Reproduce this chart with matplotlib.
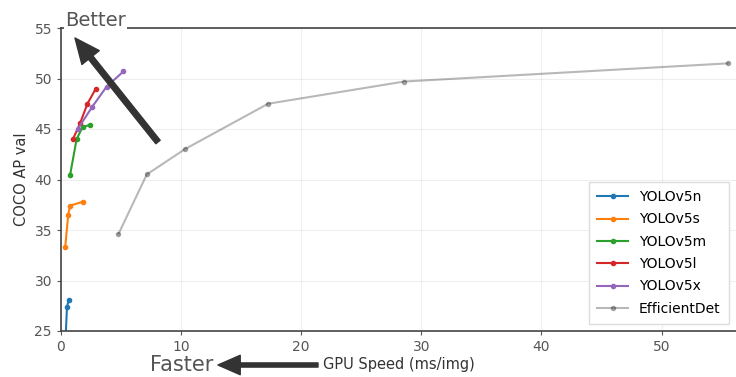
import numpy as np
import matplotlib
matplotlib.use("Agg")
import matplotlib.pyplot as plt

# speed (ms/img) and COCO AP val
n_speed = [0.35, 0.5, 0.65]
n_ap = [23.5, 27.4, 28.1]
s_speed = [0.35, 0.6, 0.75, 1.8]
s_ap = [33.3, 36.5, 37.4, 37.8]
m_speed = [0.75, 1.3, 1.8, 2.4]
m_ap = [40.4, 44.0, 45.2, 45.4]
l_speed = [1.0, 1.6, 2.2, 2.9]
l_ap = [44.0, 45.6, 47.5, 49.0]
x_speed = [1.4, 2.6, 3.8, 5.2]
x_ap = [45.0, 47.2, 49.2, 50.7]
effdet_speed = 1e3 / np.array([209, 140, 97, 58, 35, 18])
effdet_ap = [34.6, 40.5, 43.0, 47.5, 49.7, 51.5]

series = [
    ("YOLOv5n", n_speed, n_ap),
    ("YOLOv5s", s_speed, s_ap),
    ("YOLOv5m", m_speed, m_ap),
    ("YOLOv5l", l_speed, l_ap),
    ("YOLOv5x", x_speed, x_ap),
]

fig = plt.figure(figsize=(7.36, 3.77), dpi=100)
ax = fig.add_axes([61 / 736, 46 / 377, 1 - 61 / 736, (331 - 28) / 377])

for name, xs, ys in series:
    ax.plot(xs, ys, ".-", linewidth=1.5, markersize=6, label=name)
ax.plot(effdet_speed, effdet_ap, "k.-", linewidth=1.5, markersize=6, alpha=0.28,
        label="EfficientDet")

ax.set_xlim(0, 56.2)
ax.set_ylim(25, 55)
ax.set_yticks(np.arange(25, 60, 5))
ax.set_xticks(np.arange(0, 60, 10))
ax.grid(alpha=0.2)
ax.tick_params(labelsize=10, colors="#555555", length=3)
for side in ["left", "bottom", "top"]:
    ax.spines[side].set_color("#444444")
    ax.spines[side].set_linewidth(1.2)
ax.spines["right"].set_visible(False)

ax.set_xlabel("GPU Speed (ms/img)", fontsize=10.5, color="#333333", labelpad=2)
ax.set_ylabel("COCO AP val", fontsize=10.5, color="#333333", labelpad=4)
ax.legend(loc="lower right", fontsize=10, handlelength=2.2, framealpha=1,
          edgecolor="#dddddd", fancybox=False, borderpad=0.6, labelspacing=0.6)

# annotations overlaid on the chart
fig.text(65 / 736, 1 - 20 / 377, "Better", fontsize=14, color="#555555",
         va="center", ha="left",
         bbox=dict(facecolor="white", edgecolor="none", pad=1))
fig.text(150 / 736, 1 - 365 / 377, "Faster", fontsize=15, color="#555555",
         va="center", ha="left")
ax.annotate("", xy=(75 / 736, 1 - 38 / 377), xytext=(158 / 736, 1 - 142 / 377),
            xycoords="figure fraction", textcoords="figure fraction",
            arrowprops=dict(facecolor="#333333", edgecolor="#333333",
                            width=4, headwidth=16, headlength=18))
ax.annotate("", xy=(218 / 736, 1 - 365 / 377), xytext=(318 / 736, 1 - 365 / 377),
            xycoords="figure fraction", textcoords="figure fraction",
            arrowprops=dict(facecolor="#333333", edgecolor="#333333",
                            width=3, headwidth=14, headlength=16))

fig.savefig("out.png", dpi=100)
